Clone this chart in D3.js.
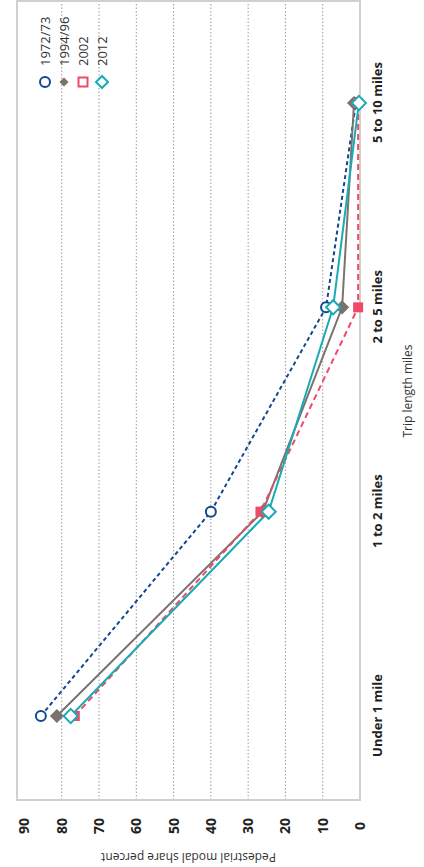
<!DOCTYPE html>
<html>
<head>
<meta charset="utf-8">
<script src="https://cdn.jsdelivr.net/npm/d3@7"></script>
<style>
  html, body { margin: 0; padding: 0; background: #fff; }
  svg { display: block; }
  text { font-family: "Open Sans", "Noto Sans", sans-serif; }
</style>
</head>
<body>
<svg id="chart" width="424" height="867"></svg>
<script>
// ---- data ----
const categories = ["Under 1 mile", "1 to 2 miles", "2 to 5 miles", "5 to 10 miles"];
const seriesNames = ["1972/73", "1994/96", "2002", "2012"];
const values1972 = [85.6, 40.0, 9.1, 1.1];
const values1994 = [81.3, 26.1, 4.8, 1.6];
const values2002 = [76.5, 26.7, 0.5, 0.5];
const values2012 = [77.6, 24.5, 7.2, 0.3];
const yTickValues = [0, 10, 20, 30, 40, 50, 60, 70, 80, 90];
const xTitle = "Trip length miles";
const yTitle = "Pedestrial modal share percent";

// ---- styles ----
const seriesStyle = [
  { color: "#11498f", dash: "4,3", marker: "circle" },
  { color: "#7b726e", dash: null, marker: "diamondFilled" },
  { color: "#ee4a68", dash: "6,4", marker: "square" },
  { color: "#1aaab6", dash: null, marker: "diamondOpen" }
];
const allValues = [values1972, values1994, values2002, values2012];
const series = seriesNames.map((name, i) => ({
  name, style: seriesStyle[i],
  points: categories.map((c, j) => ({ cat: c, v: allValues[i][j] }))
}));

// The chart is drawn in an unrotated frame (867 wide x 424 tall) and rotated -90deg.
const W = 867, H = 424;
const plot = { left: 67, right: 866, top: 17, bottom: 360 };

const svg = d3.select("#chart");
const g = svg.append("g").attr("transform", `translate(0,${W}) rotate(-90)`);

const x = d3.scalePoint().domain(categories).range([151, 764]);
const y = d3.scaleLinear().domain([0, 92]).range([plot.bottom, plot.top]);

// gridlines
g.append("g").selectAll("line")
  .data(yTickValues.filter(t => t > 0 && t < 90))
  .join("line")
  .attr("x1", plot.left).attr("x2", plot.right)
  .attr("y1", d => y(d)).attr("y2", d => y(d))
  .attr("stroke", "#9a9a9a").attr("stroke-width", 1)
  .attr("stroke-dasharray", "1.5,2");

// frame
g.append("rect")
  .attr("x", plot.left).attr("y", plot.top)
  .attr("width", plot.right - plot.left).attr("height", plot.bottom - plot.top)
  .attr("fill", "none").attr("stroke", "#d3cfcb").attr("stroke-width", 2);

// y axis tick labels
const yAxis = d3.axisLeft(y).tickValues(yTickValues).tickSize(0).tickPadding(0);
const yAxisG = g.append("g").attr("transform", `translate(41,0)`).call(yAxis);
yAxisG.select(".domain").remove();
yAxisG.selectAll("text")
  .attr("text-anchor", "middle")
  .attr("x", 0)
  .style("font-family", "'Open Sans', sans-serif")
  .style("font-size", "14px").style("font-weight", "700").attr("fill", "#231f20");

// x axis labels
const xAxis = d3.axisBottom(x).tickSize(0).tickPadding(0);
const xAxisG = g.append("g").attr("transform", `translate(0,${plot.bottom + 13})`).call(xAxis);
xAxisG.select(".domain").remove();
xAxisG.selectAll("text")
  .style("font-family", "'Open Sans', sans-serif")
  .style("font-size", "13px").style("font-weight", "700").attr("fill", "#231f20");

// axis titles
g.append("text")
  .attr("x", 476).attr("y", 412)
  .attr("text-anchor", "middle")
  .style("font-size", "12px").attr("fill", "#333")
  .text(xTitle);
g.append("text")
  .attr("transform", `translate(14,${(plot.top + plot.bottom) / 2}) rotate(-90)`)
  .attr("text-anchor", "middle")
  .style("font-size", "12px").attr("fill", "#333")
  .text(yTitle);

// lines
const line = d3.line().x(d => x(d.cat)).y(d => y(d.v));
g.append("g").selectAll("path")
  .data(series)
  .join("path")
  .attr("d", d => line(d.points))
  .attr("fill", "none")
  .attr("stroke", d => d.style.color)
  .attr("stroke-width", 2)
  .attr("stroke-dasharray", d => d.style.dash);

function drawMarker(sel, type, color, scale) {
  const s = scale || 1;
  if (type === "circle") {
    sel.append("circle").attr("r", 5 * s).attr("fill", "#fff")
      .attr("stroke", color).attr("stroke-width", 2);
  } else if (type === "diamondFilled") {
    const a = 10 * s;
    sel.append("rect").attr("x", -a / 2).attr("y", -a / 2).attr("width", a).attr("height", a)
      .attr("transform", "rotate(45)").attr("fill", color);
  } else if (type === "square") {
    const a = 10 * s;
    sel.append("rect").attr("x", -a / 2).attr("y", -a / 2).attr("width", a).attr("height", a)
      .attr("fill", color);
  } else if (type === "diamondOpen") {
    const a = 10 * s;
    sel.append("rect").attr("x", -a / 2).attr("y", -a / 2).attr("width", a).attr("height", a)
      .attr("transform", "rotate(45)").attr("fill", "#fff")
      .attr("stroke", color).attr("stroke-width", 2);
  }
}

// markers
series.forEach(s => {
  g.append("g").selectAll("g")
    .data(s.points)
    .join("g")
    .attr("transform", d => `translate(${x(d.cat)},${y(d.v)})`)
    .each(function () { drawMarker(d3.select(this), s.style.marker, s.style.color); });
});

// legend
const legend = g.append("g").attr("transform", "translate(785,45)");
series.forEach((s, i) => {
  const row = legend.append("g").attr("transform", `translate(0,${i * 19})`);
  if (s.style.marker === "square") {
    row.append("rect").attr("x", -4.5).attr("y", -4.5).attr("width", 9).attr("height", 9)
      .attr("fill", "#fff").attr("stroke", s.style.color).attr("stroke-width", 2);
  } else if (s.style.marker === "diamondFilled") {
    drawMarker(row, s.style.marker, s.style.color, 0.65);
  } else if (s.style.marker === "diamondOpen") {
    drawMarker(row, s.style.marker, s.style.color, 0.85);
  } else {
    drawMarker(row, s.style.marker, s.style.color, 1);
  }
  row.append("text").attr("x", 16).attr("y", 0).attr("dy", "0.35em")
    .style("font-size", "13px").attr("fill", "#333").text(s.name);
});
</script>
</body>
</html>
